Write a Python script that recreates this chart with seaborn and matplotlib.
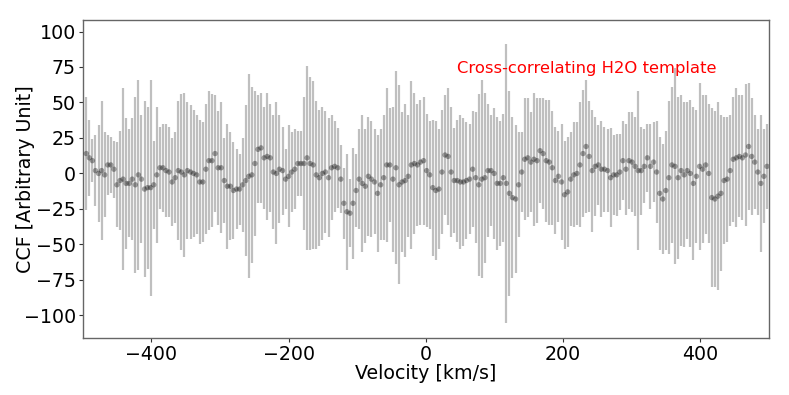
import numpy as np
import seaborn as sns
import matplotlib
matplotlib.use('Agg')
import matplotlib.pyplot as plt

# CCF vs velocity (left to right)
velocity = np.linspace(-495, 497, 223)

ccf = [14, 11, 9, 2, 0, 2, -1, 6, 6, 3, -8, -5, -4, -7, -7, -4, -8, -1, -4, -11,
       -10, -10, -8, -1, 4, 4, 2, 1, -6, -3, 2, 1, -1, 2, 1, 0, -1, -6, -6, 3,
       9, 9, 14, 4, 4, -5, -9, -9, -12, -11, -11, -8, -5, -2, -1, 7, 17, 18,
       11, 12, 11, 1, 0, 3, 2, -4, -2, 1, 3, 7, 7, 7, 11, 7, 6, -1, -3, 0,
       1, -3, 4, 5, 4, -4, -21, -27, -28, -21, -12, -4, -7, -9, -2, -4, -6, -14, -8, -3,
       6, 6, -4, 4, -8, -6, -5, -2, 6, 7, 6, 8, 9, 2, -1,
       -10, -12, -11, 1, 13, 12, 1, -5, -5, -6, -6, -5, -4, 3, -3, -8, -4, -3, 2, 2,
       0, -7, -7, -3, -7, -14, -17, -18, -8, 1, 10, 11, 8, 10, 9, 16, 14, 9, 8, 4,
       -5, -2, -6, -15, -13, -4, -1, 0, 6, 14, 19, 12, 2, 5, 6,
       3, 3, 2, -3, -1, -1, 1, 9, 3, 9, 8, 5, 2, 2, 5, 11, 5, 8, 1, -14,
       -18, -12, -3, 6, 5, -3, 2, -1, 2, 0, -7, -2, 5, 3, 6, 0, -17, -18, -16, -14,
       -5, -4, 2, 10, 11, 12, 11, 13, 19, 12, 8, 1, -7, -2, 5]

ccf_err = [40, 27, 15, 25, 34, 49, 30, 21, 20, 20, 30, 35, 64, 46, 38, 43, 62, 67, 45, 62,
           57, 76, 31, 48, 29, 31, 33, 32, 31, 32, 49, 55, 58, 48, 47, 45, 42, 44, 42, 46,
           49, 47, 41, 40, 46, 30, 44, 38, 34, 28, 25, 33, 53, 72, 62, 51, 38, 39,
           36, 45, 38, 40, 50, 38, 31, 21, 36, 28, 28, 23, 23, 47, 65, 61, 59, 52, 48, 47,
           43, 42, 37, 32, 28, 24, 25, 41, 24, 39, 26, 35, 48, 40, 42, 41, 37, 41, 39, 44,
           54, 40, 51, 68, 70, 49, 54, 43, 59, 50, 43, 44, 45, 40, 38,
           48, 49, 42, 44, 42, 48, 46, 37, 43, 47, 45, 41, 39, 41, 46, 64, 70, 60, 47, 39,
           46, 47, 44, 45, 98, 72, 57, 52, 37, 28, 43, 42, 35, 47, 44, 37, 39, 43, 44, 40,
           38, 32, 41, 38, 39, 33, 37, 36, 44, 45, 47, 39, 43, 35, 28,
           34, 30, 29, 35, 28, 29, 27, 28, 32, 34, 35, 35, 56, 31, 26, 24, 30, 28, 36, 40,
           39, 42, 54, 55, 69, 57, 53, 51, 48, 52, 54, 47, 59, 52, 49, 49, 63, 62, 66, 55,
           45, 44, 39, 44, 49, 43, 44, 50, 45, 41, 33, 30, 48, 33, 30]

sns.set_style('ticks')
plt.rcParams['font.family'] = ['DejaVu Sans']

fig = plt.figure(figsize=(7.89, 3.95), dpi=100)
ax = fig.add_axes([0.105, 0.144, 0.8697, 0.805])

ax.errorbar(velocity, ccf, yerr=ccf_err, fmt='none', ecolor='gray',
            elinewidth=1.6, alpha=0.5)
sns.scatterplot(x=velocity, y=ccf, ax=ax, color='k', alpha=0.35, s=15,
                edgecolor='none', zorder=3)

ax.text(45, 74, 'Cross-correlating H2O template', color='red', fontsize=11.8,
        va='center')

ax.set_xlim(-500, 500)
ax.set_ylim(-116, 108)
ax.set_xticks([-400, -200, 0, 200, 400])
ax.set_yticks([-100, -75, -50, -25, 0, 25, 50, 75, 100])
ax.set_xlabel('Velocity [km/s]', fontsize=13.7, labelpad=0, color='k')
ax.set_ylabel('CCF [Arbitrary Unit]', fontsize=13.7, labelpad=-8, color='k')
ax.tick_params(labelsize=13.7, length=3, pad=2, color='#333333', labelcolor='k')
for s in ax.spines.values():
    s.set_color('#666666')
    s.set_linewidth(1.0)

plt.savefig('out.png', dpi=100)
